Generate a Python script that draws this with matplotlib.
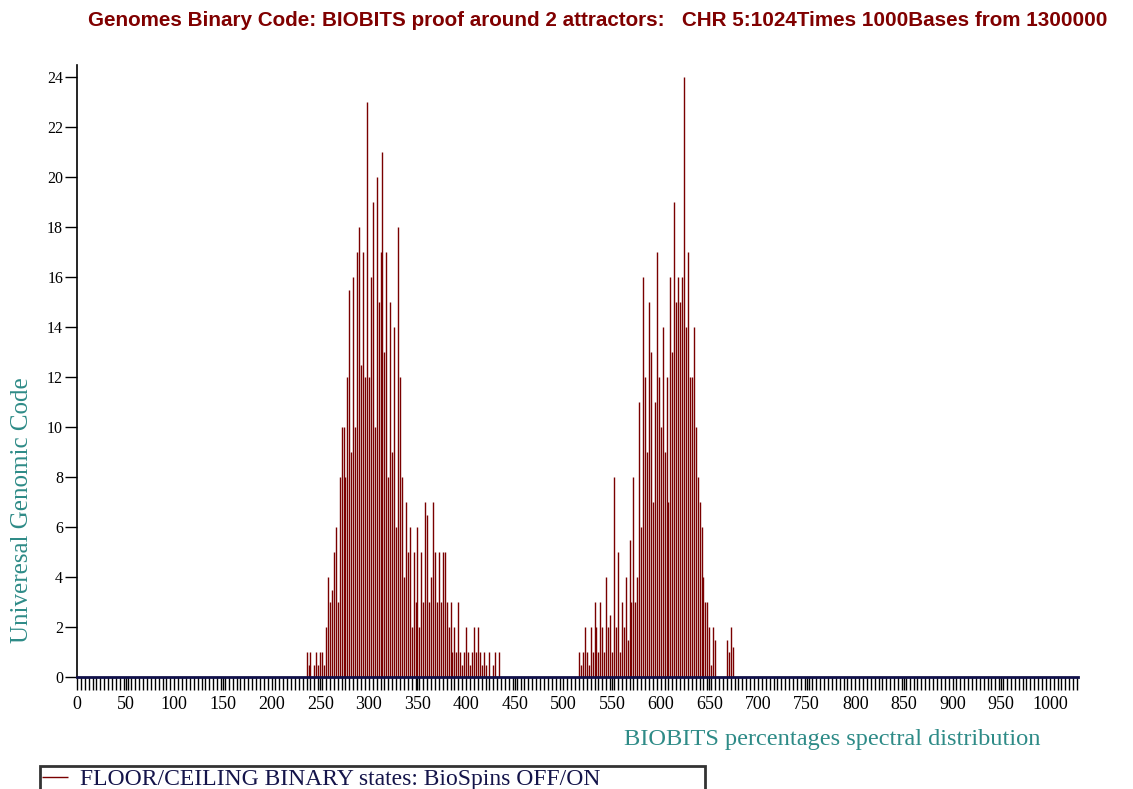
import numpy as np
import matplotlib.pyplot as plt
from matplotlib.ticker import MultipleLocator

plt.rcParams['font.family'] = ['Liberation Serif', 'DejaVu Serif']

# first attractor, every 2nd position starting at 230
x1_start = 230
y1 = [0, 0, 0, 1, 0.5, 1, 0, 0.5, 1, 0.5, 1, 1, 0.5, 2, 4, 3, 3.5, 5, 6, 3,
      8, 10, 10, 8, 12, 15.5, 9, 16, 10, 17, 18, 12.5, 17, 12, 23, 12, 16, 19, 10, 20,
      15, 17, 21, 13, 17, 8, 15, 9, 14, 6, 18, 12, 8, 4, 7, 5, 6, 2, 5, 3,
      6, 2, 5, 3, 7, 6.5, 3, 4, 7, 5, 3, 5, 3, 5, 5, 3, 2, 3, 1, 2,
      1, 3, 1, 0.5, 1, 2, 1, 0.5, 1, 2, 1, 2, 1, 0.5, 1, 0.5, 0, 1, 0, 0.5,
      1, 0, 1]
# second attractor
x2_start = 516
y2 = [1, 0.5, 1, 2, 1, 0.5, 2, 1, 3, 2, 1, 3, 2, 1, 4, 2, 2.5, 1, 8, 2,
      5, 1, 3, 2, 4, 1.5, 5.5, 3, 8, 3, 4, 11, 6, 16, 12, 9, 15, 13, 7, 11,
      17, 12, 10, 14, 9, 12, 7, 16, 13, 19, 15, 16, 15, 16, 24, 14, 17, 12, 12, 14,
      10, 8, 7, 6, 4, 3, 3, 2, 0.5, 2, 1.5, 0, 0, 0, 0, 0, 1.5, 1, 2, 1.2]

x1 = x1_start + 2 * np.arange(len(y1))
x2 = x2_start + 2 * np.arange(len(y2))
x = np.concatenate([x1, x2])
y = np.concatenate([y1, y2])

fig = plt.figure(figsize=(11.33, 7.89), dpi=100)
ax = fig.add_axes([77 / 1133, 1 - 677 / 789, 1001 / 1133, 612 / 789])

ax.vlines(x, 0, y, color='#7a0000', linewidth=1.0,
          label='FLOOR/CEILING BINARY states: BioSpins OFF/ON')

ax.set_xlim(0, 1029)
ax.set_ylim(0, 24.5)
ax.spines['top'].set_visible(False)
ax.spines['right'].set_visible(False)
ax.spines['left'].set_linewidth(1.2)
ax.spines['bottom'].set_linewidth(2)
ax.spines['bottom'].set_color('#10104a')

ax.xaxis.set_major_locator(MultipleLocator(50))
ax.xaxis.set_minor_locator(MultipleLocator(4))
ax.yaxis.set_major_locator(MultipleLocator(2))
ax.tick_params(axis='x', which='both', direction='out', length=9, width=1, labelsize=13, pad=5)
ax.tick_params(axis='y', which='major', direction='out', length=9, width=1, labelsize=11.5, pad=1)

fig.text(88 / 1133, 1 - 20 / 789, 'Genomes Binary Code: BIOBITS proof around 2 attractors:   CHR 5:1024Times 1000Bases from 1300000',
         family='Liberation Sans', fontweight='bold', fontsize=14.9, color='#800000', ha='left', va='center')
fig.text(1040 / 1133, 1 - 740 / 789, 'BIOBITS percentages spectral distribution',
         fontsize=17.6, color='#2e8b87', ha='right', va='center')
fig.text(22 / 1133, 1 - 510 / 789, 'Univeresal Genomic Code',
         fontsize=18, color='#2e8b87', rotation=90, ha='center', va='center')

leg = ax.legend(loc='upper left', bbox_to_anchor=(40 / 1133, 1 - 766 / 789 - 0.01, 665 / 1133, 0.01),
                bbox_transform=fig.transFigure, mode='expand',
                borderaxespad=0, fancybox=False, handlelength=1.1, handletextpad=0.5, borderpad=0.1,
                fontsize=17, labelcolor='#14144a')
leg.get_frame().set_edgecolor('black')
leg.get_frame().set_linewidth(2)
leg.legend_handles[0].set_linewidth(1)

plt.savefig('out.png', dpi=100)
